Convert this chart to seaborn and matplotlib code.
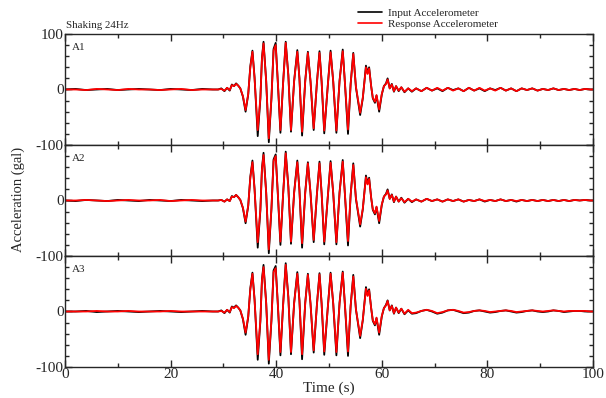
import numpy as np
import pandas as pd
import matplotlib
matplotlib.use("Agg")
import matplotlib.pyplot as plt
from matplotlib.ticker import MultipleLocator, FixedLocator
import seaborn as sns

# ---- time base (s): quiet lead-in, shaking window, decay tail ----
t_lead = [0, 2, 4, 6, 8, 10, 12, 14, 16, 18, 20, 22, 24, 26, 28]
t_event = [29.0, 29.6, 30.2, 30.7, 31.2, 31.6, 32.0, 32.4, 32.8, 33.2,
           33.7, 34.2, 34.7, 35.1, 35.5, 35.9, 36.5, 37.0, 37.3, 37.6,
           38.1, 38.6, 39.1, 39.5, 39.9, 40.3, 40.8, 41.3, 41.8, 42.3,
           42.8, 43.4, 44.0, 44.4, 44.9, 45.5, 46.0, 46.5, 47.1, 47.7,
           48.2, 48.6, 49.1, 49.8, 50.3, 50.8, 51.4, 52.0, 52.6, 53.0,
           53.6, 54.1, 54.6, 55.1, 55.9, 56.4, 57.0, 57.3, 57.6, 58.0,
           58.3, 58.7, 59.0, 59.5, 60.0, 60.4, 60.8, 61.1, 61.5, 61.9,
           62.3, 62.7, 63.2, 63.7, 64.3, 65.0, 65.7]
t_tail = [66.5, 67.5, 68.5, 69.5, 70.5, 71.5, 72.5, 73.5, 74.5, 75.5,
          76.5, 77.5, 78.5, 79.5, 80.5, 81.5, 82.5, 83.5, 84.5, 85.5,
          86.5, 87.5, 88.5, 89.5, 90.5, 91.5, 92.5, 93.5, 94.5, 95.5,
          96.5, 97.5, 98.5, 99.5, 100.0]
time_s = t_lead + t_event + t_tail

# ---- A1 (gal) ----
a1_input = (
    [0, 1, -1, 0, 1, -1, 0, 1, 0, -1, 1, 0, -1, 1, 0]
    + [0, 2, -3, 3, -2, 9, 6, 11, 7, 2,
       -13, -40, -9, 42, 70, 22, -84, -17, 57, 86,
       16, -95, -16, 73, 84, 14, -78, 11, 86, 26,
       -76, 16, 71, 20, -83, 16, 68, 14, -73, 11,
       69, 14, -79, 11, 70, 14, -78, 16, 72, 14,
       -80, 10, 66, 4, -46, -16, 43, 30, 40, 5,
       -16, -24, -11, -40, -9, 6, 11, 20, 2, 10,
       -4, 6, -3, 4, -5, 2, -4]
    + [2, -3, 3, -2, 2, -3, 3, -1, 2, -3,
       3, -2, 2, -3, 2, -1, 3, -2, 2, -3,
       2, -1, 2, -2, 1, -1, 2, -1, 1, -1,
       1, -1, 1, 0, 0]
)
a1_response = (
    [0, 0, -1, 1, 0, -1, 1, 0, 0, -1, 0, 1, -1, 0, 0]
    + [0, 1, -2, 3, -1, 8, 6, 10, 7, 2,
       -12, -37, -8, 40, 68, 20, -73, -15, 55, 83,
       15, -88, -15, 70, 80, 15, -73, 10, 84, 25,
       -73, 15, 68, 20, -76, 15, 66, 15, -70, 10,
       66, 15, -74, 10, 67, 15, -74, 15, 69, 15,
       -72, 10, 64, 5, -42, -15, 40, 28, 38, 5,
       -15, -22, -10, -36, -8, 6, 10, 18, 2, 9,
       -3, 6, -2, 4, -4, 2, -3]
    + [2, -3, 3, -2, 3, -2, 3, -2, 2, -3,
       3, -2, 3, -2, 2, -2, 3, -2, 2, -3,
       2, -1, 2, -2, 1, -1, 2, -1, 1, -1,
       1, -1, 1, 0, 0]
)

# ---- A2 (gal) ----
a2_input = (
    [0, -1, 1, 0, -1, 1, 0, -1, 1, 0, -1, 1, 0, -1, 0]
    + [0, 1, -2, 2, -1, 8, 6, 10, 6, 1,
       -14, -41, -10, 43, 72, 21, -85, -18, 58, 86,
       15, -95, -15, 74, 83, 13, -80, 10, 88, 25,
       -78, 15, 72, 19, -85, 15, 69, 13, -75, 10,
       70, 13, -79, 10, 71, 13, -79, 15, 73, 13,
       -81, 10, 67, 3, -47, -16, 45, 31, 41, 4,
       -17, -25, -12, -41, -8, 7, 12, 20, 3, 11,
       -3, 7, -2, 5, -4, 3, -3]
    + [2, -2, 3, -1, 2, -2, 2, -1, 2, -2,
       1, -1, 2, -2, 1, -1, 2, -1, 1, -2,
       1, -1, 1, -1, 1, -1, 1, -1, 1, -1,
       1, 0, 1, 0, 0]
)
a2_response = (
    [0, 0, 1, 0, -1, 0, 1, 0, 0, 1, -1, 0, 1, 0, 0]
    + [0, 1, -2, 2, -1, 7, 6, 10, 6, 1,
       -13, -38, -9, 41, 69, 20, -75, -16, 56, 82,
       14, -88, -14, 71, 80, 14, -74, 10, 85, 24,
       -74, 14, 69, 19, -77, 14, 67, 14, -71, 10,
       67, 14, -74, 10, 68, 14, -75, 14, 70, 14,
       -73, 10, 64, 4, -43, -15, 42, 29, 39, 4,
       -16, -23, -11, -37, -7, 7, 11, 18, 3, 10,
       -2, 7, -2, 4, -3, 3, -2]
    + [2, -2, 3, -1, 2, -2, 2, -1, 2, -2,
       1, -1, 2, -1, 1, -1, 2, -1, 1, -1,
       1, -1, 1, -1, 1, -1, 1, -1, 1, -1,
       1, 0, 1, 0, 0]
)

# ---- A3 (gal) ----
a3_input = (
    [0, 0, 1, -1, 0, 1, 0, -1, 0, 1, 0, -1, 0, 1, 0]
    + [0, 2, -3, 3, -2, 9, 7, 11, 7, 2,
       -14, -42, -10, 42, 70, 22, -87, -18, 58, 84,
       16, -94, -16, 74, 82, 14, -79, 11, 87, 26,
       -77, 16, 71, 20, -86, 16, 68, 14, -74, 11,
       69, 14, -78, 11, 70, 14, -79, 16, 72, 14,
       -80, 10, 66, 4, -48, -16, 44, 30, 40, 5,
       -17, -25, -12, -42, -9, 6, 12, 20, 2, 11,
       -4, 7, -3, 5, -5, 2, -4]
    + [-3, 1, 3, 0, -4, -2, 2, 3, 0, -3,
       -2, 1, 2, 0, -2, -1, 1, 2, 0, -2,
       -1, 1, 2, 0, -1, 0, 2, 1, -1, 0,
       1, 1, 0, 0, 0]
)
a3_response = (
    [0, 0, 0, 1, 0, 0, 1, 0, 0, 0, 1, 0, 0, 0, 0]
    + [0, 1, -2, 3, -1, 8, 6, 10, 7, 2,
       -13, -38, -9, 40, 68, 21, -77, -16, 56, 80,
       15, -87, -15, 71, 78, 15, -73, 10, 84, 25,
       -73, 15, 68, 20, -77, 15, 66, 14, -70, 10,
       67, 15, -72, 10, 68, 15, -73, 15, 70, 15,
       -72, 10, 63, 4, -44, -15, 41, 28, 38, 5,
       -16, -23, -11, -38, -8, 6, 11, 19, 2, 10,
       -3, 7, -2, 5, -4, 3, -3]
    + [-2, 1, 3, 1, -3, -1, 2, 3, 1, -2,
       -1, 1, 2, 1, -1, 0, 1, 2, 1, -1,
       0, 1, 2, 1, 0, 1, 2, 1, 0, 1,
       1, 1, 1, 0, 0]
)

panel_names = ["A1", "A2", "A3"]
panel_input = [a1_input, a2_input, a3_input]
panel_response = [a1_response, a2_response, a3_response]
sensor_labels = ["Input Accelerometer", "Response Accelerometer"]
sensor_colors = {"Input Accelerometer": "#000000", "Response Accelerometer": "#ff0000"}

sns.set_style("ticks")
plt.rcParams["font.family"] = ["Liberation Serif", "DejaVu Serif"]
plt.rcParams["axes.linewidth"] = 1.0

fig, axes = plt.subplots(3, 1, sharex=True, figsize=(6.06, 3.98), dpi=100)
fig.subplots_adjust(left=0.1073, right=0.9785, top=0.9146, bottom=0.0779, hspace=0)

for i, ax in enumerate(axes):
    df = pd.DataFrame({
        "time": time_s * 2,
        "acc": panel_input[i] + panel_response[i],
        "sensor": [sensor_labels[0]] * len(time_s) + [sensor_labels[1]] * len(time_s),
    })
    sns.lineplot(data=df, x="time", y="acc", hue="sensor", hue_order=sensor_labels,
                 palette=sensor_colors, estimator=None, sort=False, linewidth=1.3,
                 ax=ax, legend=(i == 0))
    ax.set_xlim(0, 100)
    ax.set_ylim(-100, 100)
    ax.set_xlabel("")
    ax.set_ylabel("")
    ax.yaxis.set_major_locator(FixedLocator([-100, 0, 100]))
    ax.yaxis.set_minor_locator(MultipleLocator(20))
    ax.xaxis.set_major_locator(MultipleLocator(20))
    ax.xaxis.set_minor_locator(MultipleLocator(10))
    ax.tick_params(which="both", direction="in", top=True, right=True, width=1.0)
    ax.tick_params(which="major", length=5, labelsize=11, pad=1)
    ax.tick_params(which="minor", length=3)
    if i == 0:
        ax.set_yticklabels(["-100", "0", "100"])
    else:
        ax.set_yticklabels(["-100", "0", ""])
    ax.text(0.013, 0.92, panel_names[i], transform=ax.transAxes,
            fontsize=8, va="top", ha="left")
    for s in ax.spines.values():
        s.set_visible(True)

handles, labels = axes[0].get_legend_handles_labels()
axes[0].get_legend().remove()
for h in handles:
    h.set_linewidth(1.2)
fig.legend(handles, labels, loc="upper left", bbox_to_anchor=(358 / 606, 1 - 8 / 398),
           fontsize=8, frameon=False, handlelength=2.2, handletextpad=0.5,
           labelspacing=0.15, borderaxespad=0, borderpad=0)

fig.text(66 / 606, 1 - 25 / 398, "Shaking 24Hz", fontsize=7.8, ha="left", va="center")
axes[2].set_xlabel("Time (s)", fontsize=11, labelpad=0)
fig.text(18 / 606, 0.5, "Acceleration (gal)", rotation=90, fontsize=10.5,
         ha="center", va="center")

fig.savefig("out.png", dpi=100)
